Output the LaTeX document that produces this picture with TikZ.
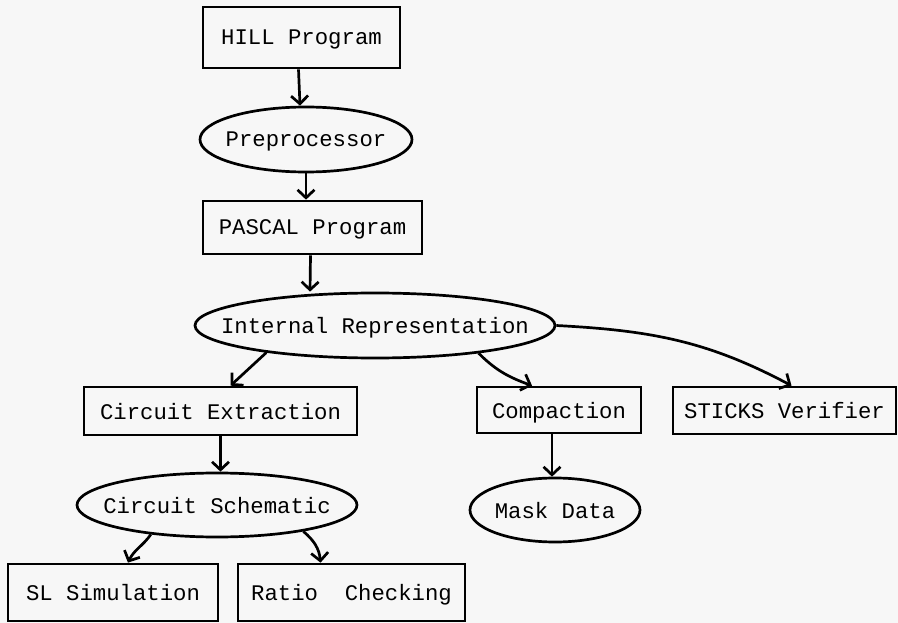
\documentclass[tikz,border=0pt]{standalone}
\usepackage{fontspec}
\setmainfont{Liberation Mono}
\usetikzlibrary{shapes.geometric,arrows.meta}
\definecolor{paper}{HTML}{F7F7F7}
\newcommand\ctext[1]{\makebox[0pt]{#1}}

\begin{document}
\begin{tikzpicture}[x=1pt,y=1pt,
  font=\fontsize{22.3}{26}\selectfont,
  box/.style={draw,line width=2.7pt,inner sep=0pt,text depth=0pt},
  oval/.style={draw,ellipse,line width=2.7pt,inner sep=0pt,text depth=0pt},
  flow/.style={line width=2.7pt,-{Straight Barb[length=8pt,width=17pt]}}]

\fill[paper] (0,0) rectangle (898,-623);
\useasboundingbox (0,0) rectangle (898,-623);

\node[box,minimum width=197,minimum height=61] (hill) at (301.5,-37.5) {HILL Program};
\node[oval,minimum width=212,minimum height=65] (pre) at (306,-139.5) {\ctext{Preprocessor}};
\node[box,minimum width=219,minimum height=53] (pas) at (312.5,-227.5) {PASCAL Program};
\node[oval,minimum width=360,minimum height=65] (ir) at (375,-325.5) {\ctext{Internal Representation}};

\node[box,minimum width=273,minimum height=48] (ce) at (220.5,-411) {Circuit Extraction};
\node[box,minimum width=164,minimum height=46] (cp) at (559,-410) {Compaction};
\node[box,minimum width=223,minimum height=47] (sv) at (784.5,-410.5) {STICKS Verifier};

\node[oval,minimum width=280,minimum height=64] (cs) at (217,-505) {\ctext{Circuit Schematic}};
\node[oval,minimum width=170,minimum height=64] (md) at (555,-510) {\ctext{Mask Data}};

\node[box,minimum width=210,minimum height=57] (sl) at (113,-592.5) {SL Simulation};
\node[box,minimum width=227,minimum height=57] (rc) at (351.5,-592.5) {Ratio\ \ Checking};

\draw[flow] ([xshift=-3pt]hill.south) -- ([xshift=-6pt]pre.north);
\draw[flow] (pre.south) -- (pre.south |- pas.north);
\draw[flow] ([xshift=-2pt]pas.south) -- ([xshift=-65pt]ir.north);
\draw[flow] (ir.-166) -- ([xshift=10pt]ce.north);
\draw[flow] (ir.-15) to[out=-45,in=160] ([xshift=-27pt]cp.north);
\draw[flow] (ir.east) to[out=-3,in=152] ([xshift=7pt]sv.north);
\draw[flow] (ce.south) -- (ce.south |- cs.north);
\draw[flow] ([xshift=-7pt]cp.south) -- ([xshift=-3pt]md.north);
\draw[flow] (cs.-156) to[out=-125,in=65] ([xshift=15pt]sl.north);
\draw[flow] (cs.-17) to[out=-40,in=95] ([xshift=-31pt]rc.north);
\end{tikzpicture}
\end{document}
